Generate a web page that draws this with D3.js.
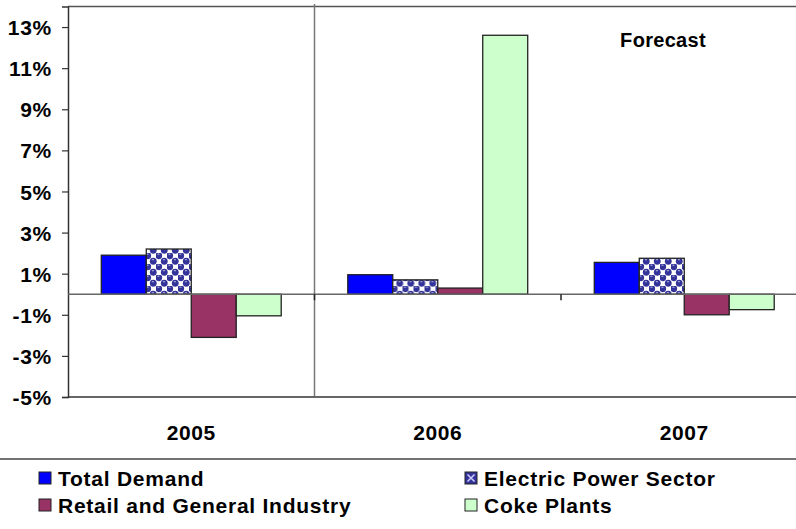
<!DOCTYPE html>
<html>
<head>
<meta charset="utf-8">
<script src="https://cdn.jsdelivr.net/npm/d3@7"></script>
<style>
  body { margin: 0; background: #fff; }
  svg text { font-family: "Liberation Sans", Arial, sans-serif; font-weight: bold; fill: #000; }
</style>
</head>
<body>
<div class="chart"></div>
<script>
const years = ["2005", "2006", "2007"]
const series = ["Total Demand", "Electric Power Sector", "Retail and General Industry", "Coke Plants"]
const totalDemand = [1.9, 0.95, 1.55]
const electricPower = [2.2, 0.7, 1.75]
const retailIndustry = [-2.1, 0.3, -1.0]
const cokePlants = [-1.05, 12.6, -0.75]
const yTicks = [-5, -3, -1, 1, 3, 5, 7, 9, 11, 13]

const values = [totalDemand, electricPower, retailIndustry, cokePlants]
const colors = ["#0000ff", "url(#spheres)", "#993366", "#ccffcc"]

const width = 796, height = 529
const margin = { top: 6.5, left: 68, bottom: 397 }

const svg = d3.select(".chart")
    .append("svg")
    .attr("width", width)
    .attr("height", height)

// sphere-like pattern for the electric power bars
const pat = svg.append("defs").append("pattern")
    .attr("id", "spheres")
    .attr("width", 11).attr("height", 11)
    .attr("patternUnits", "userSpaceOnUse")
pat.append("rect").attr("width", 11).attr("height", 11).attr("fill", "#fff")
;[[2.75, 2.75], [8.25, 8.25], [8.25, -2.75], [-2.75, 8.25], [13.75, 8.25], [8.25, 13.75]].forEach(c => {
    pat.append("circle").attr("cx", c[0]).attr("cy", c[1]).attr("r", 3.4).attr("fill", "#333399")
    pat.append("ellipse").attr("cx", c[0] - 0.3).attr("cy", c[1] - 1.6).attr("rx", 1.2).attr("ry", 0.7).attr("fill", "#aaaadd")
})

const y = d3.scaleLinear().domain([-5, 14]).range([margin.bottom, margin.top])
const x = d3.scaleBand().domain(years).range([margin.left, margin.left + 3 * 246.5])
const xSub = d3.scaleBand().domain(series).range([0, x.bandwidth()]).paddingOuter(0.74)

// frame lines
svg.append("line").attr("x1", margin.left).attr("x2", width).attr("y1", margin.top).attr("y2", margin.top)
    .attr("stroke", "#555").attr("stroke-width", 1.5)
svg.append("line").attr("x1", margin.left).attr("x2", width).attr("y1", margin.bottom).attr("y2", margin.bottom)
    .attr("stroke", "#333").attr("stroke-width", 1.5)

// forecast divider
svg.append("line").attr("x1", x("2006")).attr("x2", x("2006")).attr("y1", 4).attr("y2", 396)
    .attr("stroke", "#777").attr("stroke-width", 1.5)

// y axis
const yAxis = svg.append("g")
    .attr("transform", `translate(${margin.left},0)`)
    .call(d3.axisLeft(y).tickValues(yTicks).tickSize(6).tickFormat(d => d + "%"))
yAxis.select(".domain").attr("stroke", "#333").attr("stroke-width", 1.5)
yAxis.selectAll(".tick line").attr("stroke", "#333").attr("stroke-width", 1.2)
yAxis.selectAll(".tick text")
    .attr("x", -16)
    .attr("dy", "0.36em")
    .style("font-size", "21px")
    .style("font-family", "'Liberation Sans', Arial, sans-serif")
    .style("font-weight", "bold")
    .style("letter-spacing", "0.7px")

// bars
const groups = svg.selectAll(".year")
    .data(years)
    .enter()
    .append("g")
    .attr("transform", d => `translate(${x(d)},0)`)

groups.selectAll("rect")
    .data((d, i) => series.map((s, j) => ({ s, j, v: values[j][i] })))
    .enter()
    .append("rect")
    .attr("x", d => xSub(d.s))
    .attr("width", xSub.bandwidth())
    .attr("y", d => y(Math.max(0, d.v)))
    .attr("height", d => Math.abs(y(d.v) - y(0)))
    .attr("fill", d => colors[d.j])
    .attr("stroke", "#222")
    .attr("stroke-width", 1.3)

// zero line and category ticks
svg.append("line").attr("x1", margin.left).attr("x2", width).attr("y1", y(0)).attr("y2", y(0))
    .attr("stroke", "#666").attr("stroke-width", 1.5)
svg.selectAll(".ctick")
    .data(years.slice(1))
    .enter()
    .append("line")
    .attr("x1", d => x(d)).attr("x2", d => x(d))
    .attr("y1", y(0)).attr("y2", y(0) + 6)
    .attr("stroke", "#222").attr("stroke-width", 1.5)

// category labels
svg.selectAll(".clabel")
    .data(years)
    .enter()
    .append("text")
    .attr("x", d => x(d) + x.bandwidth() / 2)
    .attr("y", 440)
    .attr("text-anchor", "middle")
    .style("font-size", "21px")
    .style("letter-spacing", "0.6px")
    .text(d => d)

svg.append("text")
    .attr("x", 663).attr("y", 47)
    .attr("text-anchor", "middle")
    .style("font-size", "20px")
    .style("letter-spacing", "0.3px")
    .text("Forecast")

// legend
svg.append("line").attr("x1", 0).attr("x2", width).attr("y1", 459).attr("y2", 459)
    .attr("stroke", "#444").attr("stroke-width", 1.5)

const legendPos = [[39, 472], [465, 472], [39, 499], [465, 499]]
const legend = svg.selectAll(".leg")
    .data(series)
    .enter()
    .append("g")
    .attr("transform", (d, i) => `translate(${legendPos[i][0]},${legendPos[i][1]})`)
legend.append("rect")
    .attr("width", 12).attr("height", 12)
    .attr("fill", (d, i) => i == 1 ? "#333399" : colors[i])
    .attr("stroke", "#222").attr("stroke-width", 1)
legend.filter((d, i) => i == 1).append("path")
    .attr("d", "M2.5,2.5L9.5,9.5M9.5,2.5L2.5,9.5")
    .attr("stroke", "#ccccff").attr("stroke-width", 1.5)
legend.append("text")
    .attr("x", 19).attr("y", 14)
    .style("font-size", "21px")
    .style("letter-spacing", "0.75px")
    .text(d => d)
</script>
</body>
</html>
